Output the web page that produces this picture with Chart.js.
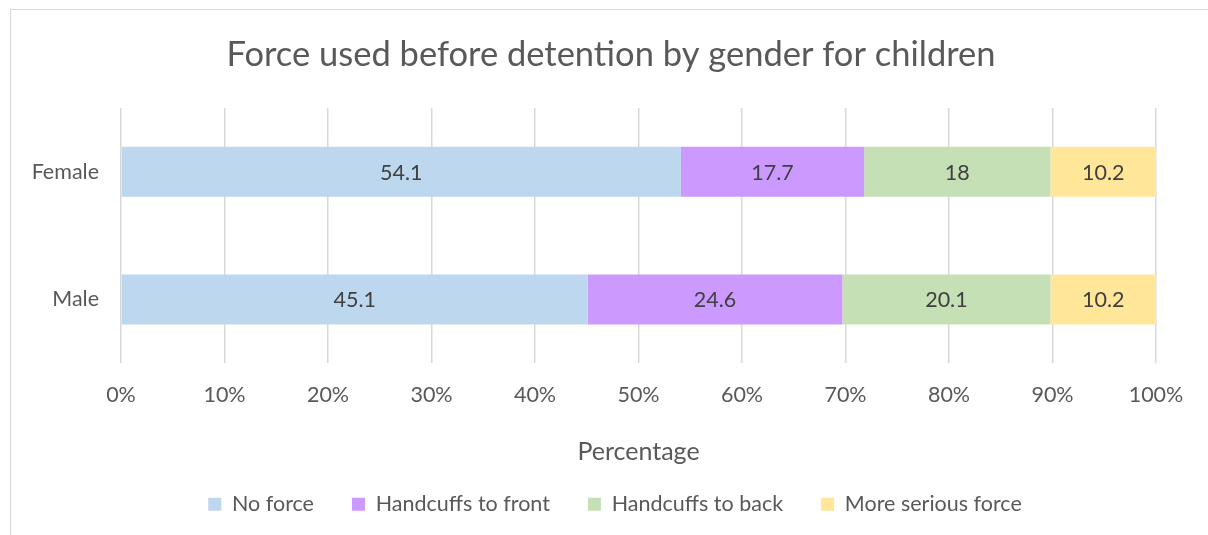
<!DOCTYPE html>
<html>
<head>
<meta charset="utf-8">
<script src="https://cdn.jsdelivr.net/npm/chart.js@4"></script>
<style>
  html, body { margin: 0; padding: 0; background: #fff; overflow: hidden; }
  #wrap { position: relative; width: 1208px; height: 535px; }
  #frame { position: absolute; left: 10px; top: 9px; width: 1300px; height: 700px; border: 1.5px solid #d9d9d9; box-sizing: border-box; pointer-events: none; }
  canvas { position: absolute; left: 0; top: 0; }
</style>
</head>
<body>
<div id="wrap">
  <canvas id="c" width="1208" height="535"></canvas>
  <div id="frame"></div>
</div>
<script>
const titleText = 'Force used before detention by gender for children';
const categories = ['Female', 'Male'];
const seriesNames = ['No force', 'Handcuffs to front', 'Handcuffs to back', 'More serious force'];
const noForce = [54.1, 45.1];
const handcuffsFront = [17.7, 24.6];
const handcuffsBack = [18, 20.1];
const seriousForce = [10.2, 10.2];
const seriesColors = ['#BDD7EE', '#CC99FF', '#C5E0B4', '#FFE699'];
const xTickStep = 10;
const axisTitle = 'Percentage';

const FONT = "Lato, 'Open Sans', sans-serif";
const FS = 21.5;

const valueLabels = {
  id: 'valueLabels',
  afterDatasetsDraw(chart) {
    const ctx = chart.ctx;
    ctx.save();
    ctx.font = FS + "px " + FONT;
    ctx.fillStyle = '#404040';
    ctx.textAlign = 'center';
    ctx.textBaseline = 'middle';
    chart.data.datasets.forEach((ds, i) => {
      const meta = chart.getDatasetMeta(i);
      meta.data.forEach((el, j) => {
        const cx = (el.x + el.base) / 2;
        ctx.fillText(String(ds.data[j]), cx, el.y + 1);
      });
    });
    ctx.restore();
  }
};

// Excel centres title and legend on the whole chart box rather than the plot; nudge them
const boxShift = {
  id: 'boxShift',
  afterLayout(chart) {
    if (chart.legend) { chart.legend.left += 32; chart.legend.right += 32; }
    if (chart.titleBlock) { chart.titleBlock.left += 28; chart.titleBlock.right += 28; }
  }
};

const allSeries = [noForce, handcuffsFront, handcuffsBack, seriousForce];

new Chart(document.getElementById('c'), {
  type: 'bar',
  data: {
    labels: categories,
    datasets: allSeries.map((d, i) => ({
      label: seriesNames[i],
      data: d,
      backgroundColor: seriesColors[i],
      borderWidth: 0,
      barPercentage: 0.784,
      categoryPercentage: 0.5
    }))
  },
  plugins: [valueLabels, boxShift],
  options: {
    indexAxis: 'y',
    responsive: false,
    animation: false,
    layout: { padding: { left: 10, right: 52, top: 10, bottom: 10 } },
    plugins: {
      title: {
        display: true,
        text: titleText,
        color: '#595959',
        font: { family: FONT, size: 34.5, weight: 'normal', lineHeight: 1.2 },
        padding: { top: 24.3, bottom: 32.3 }
      },
      legend: {
        display: true,
        position: 'bottom',
        labels: {
          color: '#595959',
          font: { family: FONT, size: FS },
          boxWidth: 13,
          boxHeight: 13,
          padding: 38
        }
      },
      tooltip: { enabled: false }
    },
    scales: {
      x: {
        stacked: true,
        min: 0,
        max: 100,
        grid: { color: '#d9d9d9', lineWidth: 1.5, drawTicks: false },
        border: { display: false },
        ticks: {
          stepSize: xTickStep,
          color: '#595959',
          font: { family: FONT, size: FS },
          padding: 19,
          callback: v => v + '%'
        },
        title: {
          display: true,
          text: axisTitle,
          color: '#595959',
          font: { family: FONT, size: 25 },
          padding: { top: 10.2, bottom: -11.75 }
        }
      },
      y: {
        stacked: true,
        grid: { display: false, drawTicks: false },
        border: { display: false },
        ticks: {
          color: '#595959',
          font: { family: FONT, size: FS },
          padding: 22
        },
        afterFit(scale) { scale.width = 111; }
      }
    }
  }
});
</script>
</body>
</html>
